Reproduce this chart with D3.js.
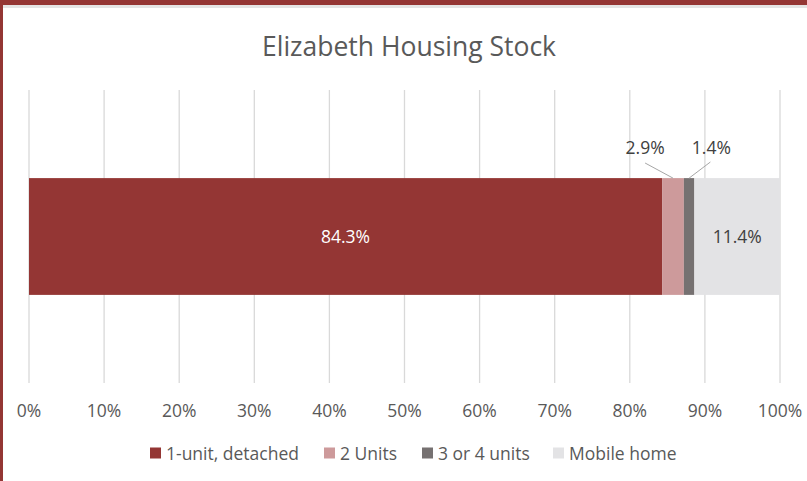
<!DOCTYPE html>
<html lang="en">
<head>
  <meta charset="UTF-8">
  <title>Elizabeth Housing Stock</title>
  <script src="https://d3js.org/d3.v7.min.js"></script>
  <style>
    body, html {
      margin: 0;
      padding: 0;
      background: #fff;
    }
    svg {
      display: block;
      font-family: "Open Sans", sans-serif;
    }
    .title {
      font-size: 26.5px;
      fill: #595959;
      text-anchor: middle;
    }
    .tick-label {
      font-size: 17.5px;
      fill: #595959;
      text-anchor: middle;
    }
    .legend text {
      font-size: 17.5px;
      fill: #595959;
    }
    .value-label {
      font-size: 17.5px;
      text-anchor: middle;
    }
  </style>
</head>
<body>
  <div id="chart"></div>

  <script>
    // Housing stock shares (percent)
    const categories = ["1-unit, detached", "2 Units", "3 or 4 units", "Mobile home"];
    const values = [84.3, 2.9, 1.4, 11.4];
    const colors = ["#943634", "#cd9a9b", "#767171", "#e3e3e5"];
    const tickValues = [0, 10, 20, 30, 40, 50, 60, 70, 80, 90, 100];

    const width = 807;
    const height = 481;

    const svg = d3.select("#chart")
      .append("svg")
      .attr("width", width)
      .attr("height", height);

    // frame: dark red top and left edges
    svg.append("rect").attr("x", 0).attr("y", 0).attr("width", width).attr("height", 5).attr("fill", "#943634");
    svg.append("rect").attr("x", 0).attr("y", 0).attr("width", 3).attr("height", height).attr("fill", "#943634");
    svg.append("rect").attr("x", 3).attr("y", 5).attr("width", width - 3).attr("height", 3).attr("fill", "#e4e4e4");

    svg.append("text")
      .attr("class", "title")
      .attr("x", 409)
      .attr("y", 56)
      .text("Elizabeth Housing Stock");

    const x = d3.scaleLinear().domain([0, 100]).range([29, 780]);
    const y = d3.scaleBand().domain(["Elizabeth"]).range([90, 383]).padding(0.43);

    // gridlines
    svg.append("g")
      .selectAll("line")
      .data(tickValues)
      .join("line")
      .attr("x1", d => x(d))
      .attr("x2", d => x(d))
      .attr("y1", 90)
      .attr("y2", 383)
      .attr("stroke", "#d9d9d9")
      .attr("stroke-width", 1.3);

    // tick labels
    svg.append("g")
      .selectAll("text")
      .data(tickValues)
      .join("text")
      .attr("class", "tick-label")
      .attr("x", d => x(d))
      .attr("y", 417)
      .text(d => d + "%");

    // stacked segments
    let acc = 0;
    const segs = values.map((v, i) => {
      const s = { name: categories[i], value: v, x0: acc, x1: acc + v, color: colors[i] };
      acc += v;
      return s;
    });

    svg.append("g")
      .selectAll("rect")
      .data(segs)
      .join("rect")
      .attr("x", d => x(d.x0))
      .attr("y", y("Elizabeth"))
      .attr("width", d => x(d.x1) - x(d.x0))
      .attr("height", y.bandwidth())
      .attr("fill", d => d.color);

    const midY = y("Elizabeth") + y.bandwidth() / 2;
    const barTop = y("Elizabeth");

    // labels inside bigger segments
    svg.append("text")
      .attr("class", "value-label")
      .attr("x", x((segs[0].x0 + segs[0].x1) / 2))
      .attr("y", midY + 6)
      .attr("fill", "#ffffff")
      .text(values[0].toFixed(1) + "%");

    svg.append("text")
      .attr("class", "value-label")
      .attr("x", x((segs[3].x0 + segs[3].x1) / 2))
      .attr("y", midY + 6)
      .attr("fill", "#404040")
      .text(values[3].toFixed(1) + "%");

    // callout labels above small segments
    const callouts = [
      { seg: segs[1], lx: x(segs[1].x0) - 17, ly: 154, lineFrom: [x(segs[1].x0) - 17, 163] },
      { seg: segs[2], lx: x(segs[2].x1) + 17, ly: 154, lineFrom: [x(segs[2].x1) + 16, 162] }
    ];
    callouts.forEach(c => {
      const sx = x((c.seg.x0 + c.seg.x1) / 2);
      svg.append("line")
        .attr("x1", c.lineFrom[0])
        .attr("y1", c.lineFrom[1])
        .attr("x2", sx)
        .attr("y2", barTop)
        .attr("stroke", "#a6a6a6")
        .attr("stroke-width", 1);
      svg.append("text")
        .attr("class", "value-label")
        .attr("x", c.lx)
        .attr("y", c.ly)
        .attr("fill", "#404040")
        .text(c.seg.value.toFixed(1) + "%");
    });

    // legend
    const legend = svg.append("g").attr("class", "legend");
    const legendX = [150, 324, 422, 553];
    categories.forEach((c, i) => {
      const g = legend.append("g").attr("transform", `translate(${legendX[i]},453)`);
      g.append("rect")
        .attr("x", 0)
        .attr("y", -5.5)
        .attr("width", 11)
        .attr("height", 11)
        .attr("fill", colors[i]);
      g.append("text")
        .attr("x", 16)
        .attr("y", 6.5)
        .text(c);
    });
  </script>
</body>
</html>
